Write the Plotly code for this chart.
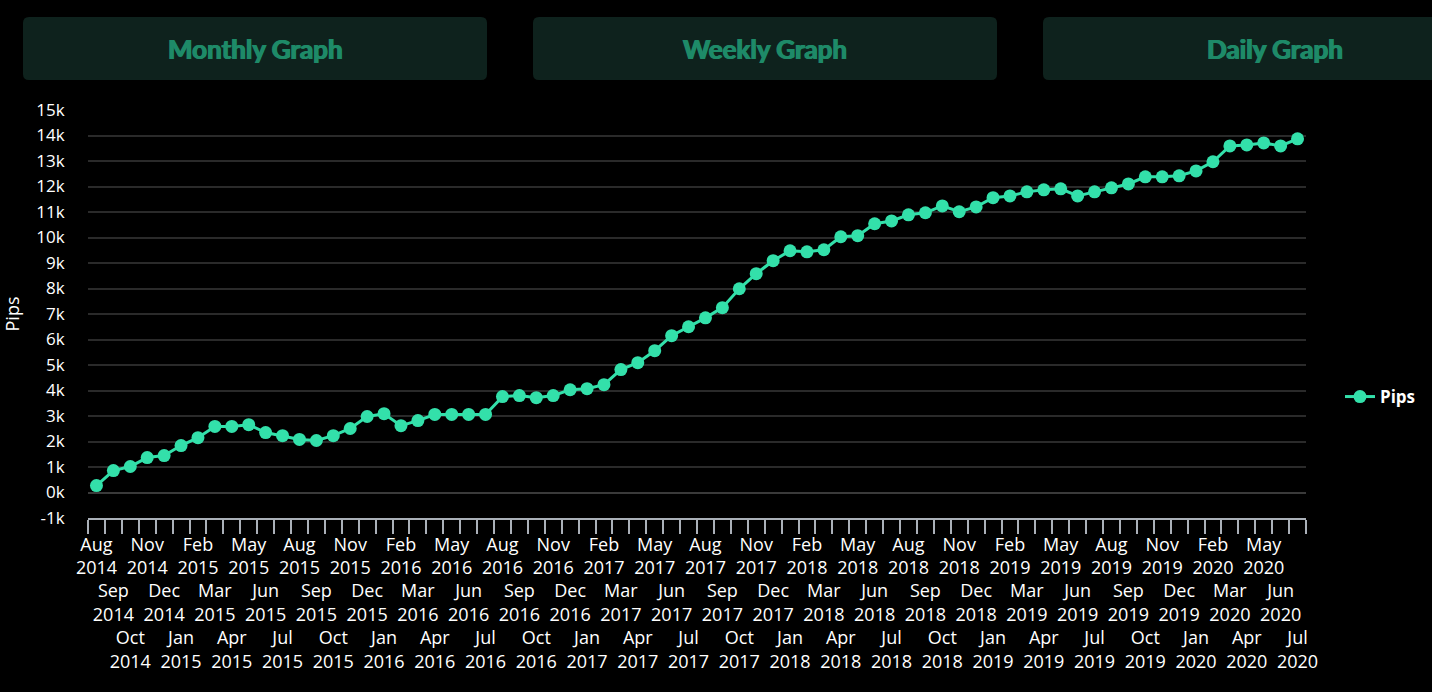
import plotly.graph_objects as go

categories = []
for y in range(2014, 2021):
    for m in ["Jan", "Feb", "Mar", "Apr", "May", "Jun", "Jul", "Aug", "Sep", "Oct", "Nov", "Dec"]:
        categories.append(f"{m} {y}")
categories = categories[categories.index("Aug 2014"):categories.index("Jul 2020") + 1]

pips = [270, 860, 1020, 1370, 1450, 1840, 2150, 2590, 2590, 2660,
        2350, 2230, 2080, 2040, 2230, 2510, 2980, 3090, 2620, 2820,
        3060, 3060, 3060, 3060, 3760, 3800, 3720, 3800, 4030, 4070,
        4230, 4820, 5090, 5560, 6150, 6500, 6850, 7250, 7990, 8580,
        9090, 9480, 9440, 9520, 10030, 10070, 10540, 10650, 10890, 10970,
        11240, 11010, 11200, 11560, 11630, 11790, 11870, 11910, 11630, 11790,
        11950, 12100, 12380, 12380, 12420, 12610, 12970, 13590, 13630, 13710,
        13590, 13870]

y_tickvals = list(range(-1000, 16000, 1000))
y_ticktext = [f"{v // 1000}k" for v in y_tickvals]

buttons = ["Monthly Graph", "Weekly Graph", "Daily Graph"]

# staggered tick labels (3 rows)
x_ticktext = []
for i, c in enumerate(categories):
    m, y = c.split(" ")
    pad = "&nbsp;<br>" * (2 * (i % 3))
    x_ticktext.append(f"{pad}{m}<br>{y}")

W, H = 1432, 692
L, R, T, B = 88, 1306, 110, 518

fig = go.Figure()
fig.add_trace(go.Scatter(
    x=categories, y=pips, mode="lines+markers", name="Pips",
    line=dict(color="#33e0aa", width=3),
    marker=dict(color="#33e0aa", size=13),
))

def px_x(p):
    return (p - L) / (R - L)

def px_y(p):
    return (B - p) / (B - T)

shapes = []
annotations = []
btn_left = [23, 533, 1043]
for bl, label in zip(btn_left, buttons):
    x0, x1, y0, y1, r = bl, bl + 464, 17, 80, 6
    path = (f"M {px_x(x0 + r)},{px_y(y0)} L {px_x(x1 - r)},{px_y(y0)} "
            f"Q {px_x(x1)},{px_y(y0)} {px_x(x1)},{px_y(y0 + r)} "
            f"L {px_x(x1)},{px_y(y1 - r)} Q {px_x(x1)},{px_y(y1)} {px_x(x1 - r)},{px_y(y1)} "
            f"L {px_x(x0 + r)},{px_y(y1)} Q {px_x(x0)},{px_y(y1)} {px_x(x0)},{px_y(y1 - r)} "
            f"L {px_x(x0)},{px_y(y0 + r)} Q {px_x(x0)},{px_y(y0)} {px_x(x0 + r)},{px_y(y0)} Z")
    shapes.append(dict(type="path", xref="paper", yref="paper", path=path,
                       fillcolor="#0e221d", line=dict(width=0), layer="below"))
    annotations.append(dict(xref="paper", yref="paper", x=px_x((x0 + x1) / 2), y=px_y(49),
                            text=label, showarrow=False, xanchor="center", yanchor="middle",
                            font=dict(family="Lato", size=26, color="#1e8a68", weight="bold",
                                      shadow="0.7px 0 0 #1e8a68, -0.7px 0 0 #1e8a68")))

fig.update_layout(
    width=W, height=H,
    paper_bgcolor="#000000", plot_bgcolor="#000000",
    margin=dict(l=L, r=W - R, t=T, b=H - B, pad=0, autoexpand=False),
    font=dict(family="Open Sans", color="#ffffff", size=16),
    shapes=shapes, annotations=annotations,
    showlegend=True,
    legend=dict(x=px_x(1340), y=px_y(397), xanchor="left", yanchor="middle",
                font=dict(family="Open Sans", size=17, color="#ffffff", weight="bold"),
                bgcolor="rgba(0,0,0,0)"),
    xaxis=dict(
        type="category", tickmode="array", tickvals=categories, ticktext=x_ticktext,
        tickson="boundaries", ticks="outside", ticklen=14, tickcolor="#aab0b8", tickwidth=2,
        showline=True, linecolor="#aab0b8", linewidth=2, automargin=False,
        showgrid=False, tickangle=0, ticklabelstandoff=9,
        tickfont=dict(family="Open Sans", size=18, color="#ffffff"),
        range=[-0.5, len(categories) - 0.5],
    ),
    yaxis=dict(
        range=[-1000, 15000], tickmode="array", tickvals=y_tickvals, ticktext=y_ticktext,
        showgrid=True, gridcolor="#2a2a2a", gridwidth=2, automargin=False,
        zeroline=True, zerolinecolor="#3a3a3a", zerolinewidth=2,
        showline=False, ticks="outside", ticklen=19, tickcolor="rgba(0,0,0,0)",
        tickfont=dict(family="Open Sans", size=17, color="#ffffff"),
        title=dict(text="Pips", font=dict(family="Open Sans", size=18, color="#ffffff"), standoff=16),
    ),
)

fig.write_html("out.html")
